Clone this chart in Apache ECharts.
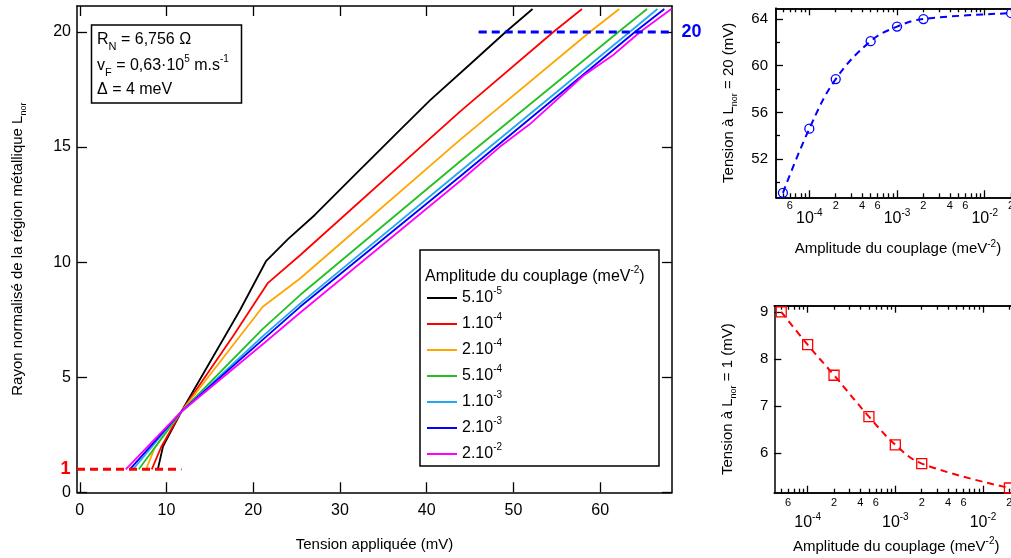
<!DOCTYPE html>
<html><head><meta charset="utf-8">
<script src="https://cdn.jsdelivr.net/npm/echarts@6/dist/echarts.min.js"></script>
<style>html,body{margin:0;padding:0;background:#fff}#c{width:1011px;height:558px}</style>
</head><body><div id="c"></div>
<script>
// ----------------- DATA -----------------
const couplingLabels = ['5.10^-5', '1.10^-4', '2.10^-4', '5.10^-4', '1.10^-3', '2.10^-3', '2.10^-2'];
const couplingAmplitudes = [5e-5, 1e-4, 2e-4, 5e-4, 1e-3, 2e-3, 2e-2];
const curveColors = ['#000000', '#ff0000', '#ffa500', '#22c022', '#22a8f0', '#0000ff', '#ff00ff'];

// main panel curves: [tension (mV), L_nor]
const curve5e5 = [[9.0,1],[9.6,2.0],[11.7,3.5],[18.45,7.9],[21.5,10.06],[24.0,11.0],[27.1,12.05],[32.0,13.9],[36.9,15.74],[40.4,17.04],[45.0,18.6],[49.1,20],[52.2,21]];
const curve1e4 = [[8.3,1],[9.4,1.98],[11.7,3.5],[17.7,6.8],[21.7,9.1],[25.4,10.3],[43.8,16.53],[54.6,20],[57.9,21]];
const curve2e4 = [[7.65,1],[8.6,1.9],[11.7,3.5],[21.1,8.06],[25.4,9.29],[43.8,15.3],[58.8,20],[62.2,21]];
const curve5e4 = [[6.8,1],[11.7,3.5],[21.1,7.1],[25.4,8.57],[43.8,14.36],[62.1,20],[65.4,21]];
const curve1e3 = [[6.15,1],[11.7,3.5],[21.3,6.85],[25.4,8.2],[43.8,13.93],[63.4,20],[66.6,21]];
const curve2e3 = [[5.77,1],[11.7,3.5],[21.3,6.7],[25.4,8.06],[43.8,13.71],[64.0,20],[67.4,21]];
const curve2e2 = [[5.3,1],[11.7,3.5],[21.3,6.5],[25.4,7.8],[44.0,13.57],[48.4,15.0],[51.9,16.0],[58.05,18.1],[61.5,19.0],[64.6,20],[68.2,21]];
const curves = [curve5e5, curve1e4, curve2e4, curve5e4, curve1e3, curve2e3, curve2e2];

const refLineLow = [[-0.32,1],[11.7,1]];
const refLineHigh = [[46,20],[68.28,20]];

// right panels
const voltageAtL20 = [49.1, 54.6, 58.85, 62.1, 63.35, 64.0, 64.5];
const voltageAtL1 = [9.0, 8.3, 7.65, 6.77, 6.17, 5.77, 5.25];

// ticks
const mainXTicks = [0,10,20,30,40,50,60];
const mainYTicks = [0,5,10,15,20];
const topYTicks = [52,56,60,64];
const topYMinorTicks = [50,54,58,62];
const bottomYTicks = [6,7,8,9];
const decadeTicks = [1e-4, 1e-3, 1e-2];
const minorLabelTicks = [6e-5, 2e-4, 4e-4, 6e-4, 2e-3, 4e-3, 6e-3, 2e-2];
const minorTickValues = [];
for (let e = -5; e <= -2; e++) for (let k = 2; k <= 9; k++) minorTickValues.push(k * Math.pow(10, e));

// ----------------- CHART -----------------
const FF = '"Liberation Sans", Arial, sans-serif';
const LOGMIN = -4.38, LOGMAX = -1.6;
const lg = v => Math.log10(v);
const line = {onZero:false, lineStyle:{color:'#000', width:1.5}};
const rich = {
  n:{fontSize:16, lineHeight:24, color:'#000', fontFamily:FF},
  sp:{fontSize:10, lineHeight:12, verticalAlign:'top', color:'#000', fontFamily:FF},
  sb:{fontSize:11, lineHeight:12, verticalAlign:'bottom', color:'#000', fontFamily:FF},
  sbg:{fontSize:11, lineHeight:12, verticalAlign:'bottom', color:'#555', fontFamily:FF}
};
const richName = {
  n:{fontSize:15, lineHeight:20, color:'#000', fontFamily:FF},
  sp:{fontSize:10, lineHeight:10, verticalAlign:'top', color:'#000', fontFamily:FF},
  sb:{fontSize:9, lineHeight:10, verticalAlign:'bottom', color:'#000', fontFamily:FF}
};

function tickAx(grid, pos, min, max, ticks, len, extra) {
  return Object.assign({
    type:'value', gridIndex:grid, position:pos, min:min, max:max,
    axisLine:line, splitLine:{show:false},
    axisTick:{show:true, inside:true, length:len, customValues:ticks, lineStyle:{color:'#000', width:1.3}},
    axisLabel:{show:false}
  }, extra || {});
}

const decLog = decadeTicks.map(lg);
const minLog = minorTickValues.map(lg).filter(v => v > LOGMIN && v < LOGMAX);
const minLabLog = minorLabelTicks.map(lg);
const decFmt = v => '{b|10}{s|' + Math.round(v) + '}';
const decRich = {b:{fontSize:16, lineHeight:20, color:'#000', fontFamily:FF}, s:{fontSize:10, lineHeight:10, verticalAlign:'top', color:'#000', fontFamily:FF}};
const minFmt = v => String(Math.round(Math.pow(10, v - Math.floor(v + 1e-9))));

function logPanelX(grid, decMargin, minMargin, nameGap) {
  return [
    tickAx(grid, 'bottom', LOGMIN, LOGMAX, decLog, 7, {
      axisLabel:{show:true, customValues:decLog, formatter:decFmt, rich:decRich, margin:decMargin},
      name:'{n|Amplitude du couplage (meV}{sp|-2}{n|)}', nameLocation:'middle', nameGap:nameGap,
      nameTextStyle:{rich:richName}
    }),
    tickAx(grid, 'bottom', LOGMIN, LOGMAX, minLog, 4, {
      axisLabel:{show:true, customValues:minLabLog, formatter:minFmt, fontSize:11, color:'#000', fontFamily:FF, margin:minMargin}
    }),
    tickAx(grid, 'top', LOGMIN, LOGMAX, decLog, 7),
    tickAx(grid, 'top', LOGMIN, LOGMAX, minLog, 4)
  ];
}

const xAxes = [
  tickAx(0, 'bottom', -0.32, 68.28, mainXTicks, 10, {
    axisLabel:{show:true, customValues:mainXTicks, fontSize:16, color:'#000', fontFamily:FF, margin:10},
    name:'Tension appliquée (mV)', nameLocation:'middle', nameGap:45,
    nameTextStyle:{fontSize:15, color:'#000', fontFamily:FF}
  }),
  tickAx(0, 'top', -0.32, 68.28, mainXTicks, 10)
].concat(logPanelX(1, 11, 3, 42)).concat(logPanelX(2, 20, 5, 44));

const yAxes = [
  tickAx(0, 'left', 0, 21.13, mainYTicks, 10, {
    axisLabel:{show:true, customValues:mainYTicks, fontSize:16, color:'#000', fontFamily:FF, margin:6},
    name:'{n|Rayon normalisé de la région métallique L}{sb|nor}', nameLocation:'middle', nameGap:49,
    nameTextStyle:{rich:richName}
  }),
  tickAx(0, 'right', 0, 21.13, mainYTicks, 10),
  // top right panel
  tickAx(1, 'left', 48.72, 64.92, topYTicks, 7, {
    axisLabel:{show:true, customValues:topYTicks, fontSize:15, color:'#000', fontFamily:FF, margin:8},
    name:'{n|Tension à L}{sb|nor}{n| = 20 (mV)}', nameLocation:'middle', nameGap:37,
    nameTextStyle:{rich:richName}
  }),
  tickAx(1, 'left', 48.72, 64.92, topYMinorTicks, 4),
  tickAx(1, 'right', 48.72, 64.92, topYTicks, 7),
  tickAx(1, 'right', 48.72, 64.92, topYMinorTicks, 4),
  // bottom right panel
  tickAx(2, 'left', 5.15, 9.13, bottomYTicks, 7, {
    axisLabel:{show:true, customValues:bottomYTicks, fontSize:15, color:'#000', fontFamily:FF, margin:6},
    name:'{n|Tension à L}{sb|nor}{n| = 1 (mV)}', nameLocation:'middle', nameGap:36,
    nameTextStyle:{rich:richName}
  }),
  tickAx(2, 'right', 5.15, 9.13, bottomYTicks, 7)
];

const series = curves.map((c, i) => ({
  name: couplingLabels[i], type:'line', xAxisIndex:0, yAxisIndex:0,
  data: c, symbol:'none', showSymbol:false,
  lineStyle:{color:curveColors[i], width:1.8}, itemStyle:{color:curveColors[i]}, z:3
}));

series.push({
  type:'line', xAxisIndex:0, yAxisIndex:0, symbol:'circle', symbolSize:1,
  itemStyle:{color:'#ff0000'}, lineStyle:{color:'#ff0000', width:3, type:[8,5]},
  data: refLineLow.map((p, i) => i === 0 ? {value:p, label:{show:true, position:'left', distance:6, formatter:'1', color:'#ff0000', fontWeight:'bold', fontSize:18, fontFamily:FF}} : {value:p}),
  z:4
});
series.push({
  type:'line', xAxisIndex:0, yAxisIndex:0, symbol:'circle', symbolSize:1,
  itemStyle:{color:'#0000ff'}, lineStyle:{color:'#0000ff', width:3, type:[8,5]},
  data: refLineHigh.map((p, i) => i === refLineHigh.length - 1 ? {value:p, label:{show:true, position:'right', distance:9, formatter:'20', color:'#0000ff', fontWeight:'bold', fontSize:18, fontFamily:FF}} : {value:p}),
  z:4
});

series.push({
  type:'line', xAxisIndex:2, yAxisIndex:2, smooth:0.4,
  data: couplingAmplitudes.map((a, i) => [lg(a), voltageAtL20[i]]),
  symbol:'circle', symbolSize:9,
  itemStyle:{color:'rgba(0,0,0,0)', borderColor:'#0000ff', borderWidth:1.3},
  lineStyle:{color:'#0000ff', width:2, type:[7,5]}, clip:false
});
series.push({
  type:'line', xAxisIndex:6, yAxisIndex:6, smooth:0.4,
  data: couplingAmplitudes.map((a, i) => [lg(a), voltageAtL1[i]]),
  symbol:'rect', symbolSize:10,
  itemStyle:{color:'rgba(0,0,0,0)', borderColor:'#ff0000', borderWidth:1.3},
  lineStyle:{color:'#ff0000', width:2, type:[7,5]}, clip:false
});

const PX = 87.7 * (LOGMAX - LOGMIN);

const option = {
  animation:false,
  backgroundColor:'#fff',
  textStyle:{fontFamily:FF},
  grid:[
    {left:77, top:6, width:595, height:486.3, outerBoundsMode:'none', containLabel:false},
    {left:776, top:8.3, width:PX, height:189, outerBoundsMode:'none', containLabel:false},
    {left:774.3, top:305.7, width:PX, height:187, outerBoundsMode:'none', containLabel:false}
  ],
  xAxis: xAxes,
  yAxis: yAxes,
  legend:{
    data: couplingLabels, orient:'vertical', left:427, top:286,
    icon:'rect', itemWidth:30, itemHeight:2, itemGap:6, padding:0,
    formatter: name => { const p = name.split('^'); return '{n|' + p[0] + '}{sp|' + p[1] + '}'; },
    textStyle:{rich:rich, fontSize:16, color:'#000', fontFamily:FF},
    z:10
  },
  graphic:[
    {type:'rect', shape:{x:91.5, y:25, width:150, height:78}, style:{fill:'#fff', stroke:'#000', lineWidth:1.5}, z:5},
    {type:'text', x:97, y:40, z:6, style:{text:'{n|R}{sb|N}{n| = 6,756 Ω}', rich:rich, verticalAlign:'middle', fill:'#000'}},
    {type:'text', x:97, y:66, z:6, style:{text:'{n|v}{sbg|F}{n| = 0,63·10}{sp|5}{n| m.s}{sp|-1}', rich:rich, verticalAlign:'middle', fill:'#000'}},
    {type:'text', x:97, y:90, z:6, style:{text:'{n|Δ = 4 meV}', rich:rich, verticalAlign:'middle', fill:'#000'}},
    {type:'rect', shape:{x:420, y:250, width:239, height:216}, style:{fill:'#fff', stroke:'#000', lineWidth:1.5}, z:1},
    {type:'text', x:425, y:277, z:6, style:{text:'{n|Amplitude du couplage (meV}{sp|-2}{n|)}', rich:rich, verticalAlign:'middle', fill:'#000'}}
  ],
  series: series
};

const chart = echarts.init(document.getElementById('c'), null, {renderer:'canvas'});
chart.setOption(option);
</script></body></html>
